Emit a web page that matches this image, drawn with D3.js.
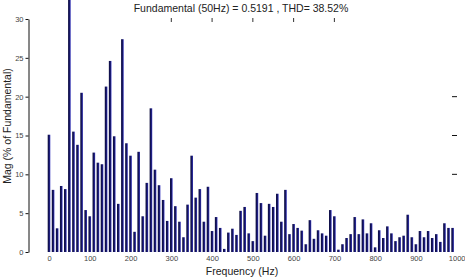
<!DOCTYPE html>
<html><head><meta charset="utf-8">
<script src="https://cdn.jsdelivr.net/npm/d3@7"></script>
<style>html,body{margin:0;padding:0;background:#fff;}svg{display:block;}</style>
</head><body>
<svg id="c" width="465" height="280"></svg>
<script>
const freqs = d3.range(0, 1000, 10);
const mags = [
 15.1, 8.0, 3.05, 8.5, 8.1, 100, 15.5, 13.8, 20.5, 5.4,
 4.6, 12.8, 11.5, 11.3, 21.3, 24.6, 14.9, 6.2, 27.4, 14.0,
 12.4, 2.6, 12.9, 4.6, 8.9, 18.5, 10.6, 8.6, 6.7, 4.0,
 9.5, 5.9, 3.9, 1.9, 6.1, 12.4, 7.0, 8.1, 3.9, 8.4,
 2.7, 4.5, 3.1, 0.4, 2.5, 3.0, 2.2, 5.3, 5.8, 2.4,
 1.4, 7.6, 6.3, 2.1, 6.2, 5.8, 7.5, 3.9, 8.0, 2.3,
 3.6, 3.1, 2.75, 1.0, 4.1, 1.7, 2.8, 2.4, 2.1, 5.4,
 4.6, 0.3, 1.0, 1.8, 2.3, 4.5, 2.3, 4.2, 2.4, 3.7,
 0.6, 2.8, 1.8, 3.3, 2.4, 1.4, 1.9, 2.1, 4.8, 1.9,
 1.0, 2.7, 1.9, 2.7, 1.8, 2.3, 1.3, 3.7, 3.1, 3.1
];
const xTicks = [0,100,200,300,400,500,600,700,800,900,1000];
const yTicks = [0,5,10,15,20,25,30];
const topTicks = [300,400,500,600,700];
const rightTicks = [10,15,20];
const titleText = "Fundamental (50Hz) = 0.5191 , THD= 38.52%";
const xLabel = "Frequency (Hz)";
const yLabel = "Mag (% of Fundamental)";

const svg = d3.select("#c");
const x = d3.scaleLinear().domain([0,1000]).range([49, 456.7]);
const y = d3.scaleLinear().domain([0,30]).range([252, 19]);
const bw = 2.6;
const font = "Liberation Sans, Arial, sans-serif";

const defs = svg.append("defs");
const g = defs.append("linearGradient").attr("id","bg").attr("x1","0").attr("x2","1").attr("y1","0").attr("y2","0");
g.append("stop").attr("offset","0%").attr("stop-color","#0c0c3a");
g.append("stop").attr("offset","60%").attr("stop-color","#16166a");
g.append("stop").attr("offset","100%").attr("stop-color","#3a3ac0");

svg.append("g").selectAll("rect").data(freqs.map((f,i)=>({f, v:mags[i]})))
 .join("rect")
 .attr("x", d => x(d.f) - bw/2)
 .attr("y", d => y(d.v))
 .attr("width", bw)
 .attr("height", d => y(0) - y(d.v))
 .attr("fill", "url(#bg)");

// Y axis
const ya = svg.append("g").attr("transform","translate(28.5,0)")
 .call(d3.axisLeft(y).tickValues(yTicks).tickFormat(d3.format("d")).tickSize(3).tickSizeOuter(0).tickPadding(2));
ya.select(".domain").attr("stroke","#111").attr("stroke-width",1);
ya.selectAll(".tick line").attr("stroke","#111");
ya.selectAll("text").attr("font-family",font).attr("font-size","7.5px").attr("fill","#444");

// X axis labels only
const xa = svg.append("g").attr("transform","translate(0,252)")
 .call(d3.axisBottom(x).tickValues(xTicks).tickFormat(d3.format("d")).tickSize(0).tickPadding(4));
xa.select(".domain").remove();
xa.selectAll("text").attr("font-family",font).attr("font-size","7.5px").attr("fill","#444");

// top ticks
svg.append("g").selectAll("line").data(topTicks).join("line")
 .attr("x1", d=>x(d)).attr("x2", d=>x(d)).attr("y1",18).attr("y2",22)
 .attr("stroke","#333").attr("stroke-width",1);
// right ticks
svg.append("g").selectAll("line").data(rightTicks).join("line")
 .attr("x1",452).attr("x2",457).attr("y1",d=>y(d)).attr("y2",d=>y(d))
 .attr("stroke","#111").attr("stroke-width",1);

svg.append("text").attr("x",241).attr("y",12).attr("text-anchor","middle")
 .attr("font-family",font).attr("font-size","10.5px").attr("fill","#222")
 .text(titleText);
svg.append("text").attr("x",242).attr("y",275).attr("text-anchor","middle")
 .attr("font-family",font).attr("font-size","10.5px").attr("fill","#222")
 .text(xLabel);
svg.append("text").attr("transform","translate(11,126) rotate(-90)").attr("text-anchor","middle")
 .attr("font-family",font).attr("font-size","10.5px").attr("fill","#222")
 .text(yLabel);
</script>
</body></html>
